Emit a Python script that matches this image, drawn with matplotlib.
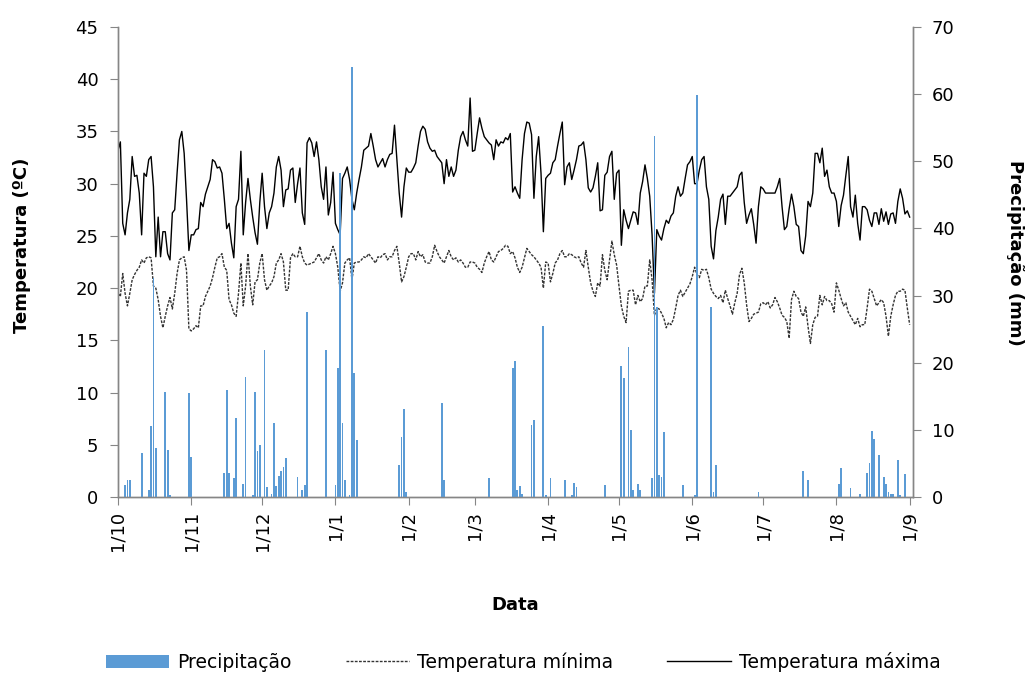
import numpy as np
import pandas as pd
import matplotlib
matplotlib.use("Agg")
import matplotlib.pyplot as plt
from matplotlib.patches import Patch
from matplotlib.lines import Line2D

# ---------------- data ----------------
start_date = "2010-10-01"
end_date = "2011-09-01"

tick_labels = ["1/10", "1/11", "1/12", "1/1", "1/2", "1/3", "1/4", "1/5", "1/6", "1/7", "1/8", "1/9"]

tmax = [
    33.2, 34.0, 26.2, 25.1, 27.2, 28.5, 32.6, 30.7, 30.8, 29.1,
    25.1, 31.0, 30.7, 32.3, 32.6, 29.7, 23.0, 26.8, 23.0, 25.4,
    25.4, 23.3, 22.7, 27.2, 27.5, 31.0, 34.2, 35.0, 32.9, 28.5,
    23.6, 25.1, 25.1, 25.6, 25.7, 28.2, 27.8, 29.0, 29.7, 30.4,
    32.3, 32.1, 31.5, 31.6, 31.0, 28.5, 25.7, 26.2, 24.3, 22.9,
    27.8, 28.5, 33.1, 25.1, 28.2, 30.5, 28.5, 26.8, 25.3, 24.2,
    28.2, 31.0, 27.8, 25.7, 27.2, 27.8, 29.1, 31.6, 32.6, 31.3,
    27.8, 29.4, 29.5, 31.3, 31.5, 28.2, 30.0, 31.5, 27.2, 26.1,
    33.9, 34.4, 33.9, 32.6, 34.0, 32.3, 29.7, 28.5, 31.6, 27.0,
    28.2, 31.1, 26.2, 25.6, 25.1, 30.5, 31.0, 31.6, 30.4, 28.5,
    27.5, 29.1, 30.4, 31.6, 33.2, 33.4, 33.6, 34.8, 33.6, 32.3,
    31.6, 32.0, 32.4, 31.6, 32.3, 32.8, 32.9, 35.6, 32.3, 29.1,
    26.8, 29.7, 31.5, 31.1, 31.1, 31.5, 32.0, 33.6, 35.0, 35.5,
    35.2, 34.0, 33.4, 33.1, 33.2, 32.6, 32.3, 32.0, 30.0, 32.3,
    30.7, 31.6, 30.7, 31.3, 33.2, 34.5, 35.0, 34.2, 33.6, 38.2,
    33.1, 33.2, 34.8, 36.3, 35.3, 34.5, 34.2, 33.9, 33.7, 32.3,
    34.2, 33.6, 34.0, 33.9, 34.4, 34.2, 34.8, 29.2, 29.7, 29.1,
    28.6, 32.3, 34.8, 35.9, 35.8, 34.7, 28.6, 32.6, 34.5, 31.0,
    25.4, 30.5, 30.8, 31.0, 32.0, 32.3, 33.6, 34.8, 35.9, 29.9,
    31.6, 32.0, 30.4, 31.3, 32.3, 33.6, 33.7, 34.0, 32.3, 29.6,
    29.2, 29.6, 30.7, 32.0, 27.4, 27.5, 30.8, 31.1, 32.6, 33.1,
    28.5, 31.0, 31.3, 24.1, 27.5, 26.5, 25.7, 26.5, 27.3, 27.2,
    26.1, 29.1, 30.2, 31.8, 30.5, 28.8, 25.1, 19.5, 25.6, 25.0,
    24.6, 25.7, 26.5, 26.2, 26.9, 27.2, 28.8, 29.7, 28.8, 29.1,
    30.5, 31.8, 32.1, 32.6, 30.0, 30.0, 31.3, 32.3, 32.6, 29.7,
    28.5, 24.0, 22.8, 25.5, 26.8, 28.5, 29.0, 26.1, 28.8, 28.8,
    29.1, 29.4, 29.7, 30.8, 31.1, 28.2, 26.2, 27.0, 27.6, 26.1,
    24.3, 27.8, 29.7, 29.5, 29.1, 29.1, 29.1, 29.1, 29.1, 29.7,
    30.5, 27.8, 25.6, 25.9, 27.6, 29.0, 27.8, 26.1, 25.9, 23.6,
    23.3, 25.0, 28.3, 27.8, 29.1, 32.9, 32.9, 32.0, 33.4, 30.7,
    31.3, 29.7, 29.1, 29.1, 28.3, 25.9, 27.9, 28.9, 30.8, 32.6,
    27.8, 26.8, 28.9, 26.2, 24.6, 27.8, 27.8, 27.5, 26.5, 25.9,
    27.2, 27.2, 26.1, 27.6, 26.4, 27.3, 26.1, 27.1, 27.2, 26.2,
    28.3, 29.5, 28.6, 27.1, 27.4, 26.8,
]

tmin = [
    19.5, 19.2, 21.4, 19.5, 18.3, 19.5, 20.8, 21.3, 21.7, 22.0,
    22.7, 22.4, 22.9, 23.0, 22.9, 20.2, 20.0, 18.9, 17.3, 16.2,
    17.3, 18.3, 19.1, 18.0, 19.5, 21.4, 22.7, 22.9, 23.0, 21.7,
    16.1, 15.9, 16.1, 16.4, 16.2, 18.3, 18.3, 19.2, 19.7, 20.2,
    21.0, 22.0, 22.9, 23.0, 23.3, 22.0, 21.7, 18.9, 18.4, 17.6,
    17.3, 19.5, 22.4, 18.3, 20.2, 23.3, 20.2, 18.4, 20.6, 20.8,
    22.4, 23.3, 20.8, 19.8, 20.2, 20.5, 21.1, 22.4, 22.7, 23.3,
    22.5, 19.8, 19.8, 22.9, 23.3, 23.0, 23.0, 24.0, 23.0, 22.4,
    22.2, 22.3, 22.4, 22.5, 22.9, 23.3, 22.7, 22.4, 23.0, 22.7,
    23.3, 24.0, 23.3, 22.0, 19.7, 20.5, 22.4, 22.7, 22.9, 20.8,
    22.4, 22.5, 22.5, 22.7, 23.0, 22.9, 23.3, 23.0, 22.7, 22.4,
    23.0, 22.9, 23.2, 23.3, 22.7, 23.0, 23.0, 23.6, 24.0, 22.4,
    20.6, 21.1, 22.0, 23.0, 23.3, 23.3, 22.7, 23.5, 23.0, 23.2,
    22.5, 22.4, 22.4, 23.0, 24.1, 23.5, 23.0, 22.7, 22.4, 23.0,
    23.6, 23.0, 22.7, 22.9, 22.5, 22.7, 22.4, 22.0, 22.0, 22.5,
    22.5, 22.4, 22.0, 21.8, 21.5, 22.4, 23.0, 23.5, 22.7, 22.5,
    23.0, 23.5, 23.6, 23.8, 24.1, 24.0, 23.3, 23.5, 22.9, 22.0,
    21.5, 22.0, 22.9, 23.8, 23.5, 23.2, 23.0, 22.7, 22.4, 22.0,
    20.0, 22.5, 22.4, 20.6, 21.4, 22.4, 22.7, 23.3, 23.6, 23.0,
    23.0, 23.3, 23.2, 23.0, 22.9, 23.0, 22.4, 22.0, 23.6, 22.0,
    20.5, 19.7, 19.2, 20.5, 20.2, 23.2, 21.7, 20.8, 22.7, 24.5,
    23.2, 22.2, 20.2, 18.3, 17.3, 16.7, 19.7, 19.8, 19.8, 18.4,
    19.3, 18.7, 19.0, 20.2, 20.2, 22.7, 20.8, 17.4, 18.1, 18.0,
    17.6, 17.1, 16.2, 16.7, 16.5, 17.0, 18.1, 19.3, 19.8, 19.2,
    19.6, 20.0, 20.4, 21.1, 22.0, 21.3, 21.0, 21.8, 21.7, 21.8,
    21.0, 19.9, 19.5, 19.2, 19.0, 19.3, 18.6, 19.8, 19.0, 18.3,
    17.5, 18.6, 19.5, 21.3, 21.9, 20.5, 18.4, 16.8, 17.1, 17.5,
    17.6, 17.7, 18.5, 18.6, 18.4, 18.7, 18.1, 18.4, 19.1, 18.7,
    18.1, 17.4, 17.2, 16.8, 15.2, 18.9, 19.7, 19.2, 19.0, 17.7,
    17.3, 18.2, 16.3, 14.7, 16.5, 17.2, 17.3, 19.3, 18.4, 19.2,
    18.8, 18.8, 18.5, 17.7, 20.5, 19.8, 19.0, 18.3, 18.6, 17.7,
    17.3, 16.9, 16.5, 17.1, 16.3, 16.5, 16.5, 18.1, 19.9, 19.7,
    19.0, 18.3, 18.6, 18.9, 18.6, 17.3, 15.4, 17.3, 18.4, 19.3,
    19.7, 19.7, 19.9, 19.8, 18.1, 16.5,
]

# rainy days (day index from 1/10) and amounts (mm)
rain_day = [3, 4, 5, 10, 13, 14, 15, 16, 20, 21, 22, 30, 31,
            45, 46, 47, 49, 50, 53, 54, 57, 58, 59, 60, 62, 63, 65, 66, 67, 68, 69, 70, 71, 76, 78, 79, 80,
            88, 92, 93, 94, 95, 96, 98, 99, 100, 101, 119, 120, 121, 122,
            137, 138, 157, 167, 168, 169, 170, 171, 175, 176, 180, 181, 183, 189, 192, 193, 194, 206,
            213, 214, 216, 217, 218, 220, 221, 226, 227, 228, 229, 230, 231, 239, 244, 245, 251, 252, 253,
            271, 290, 292,
            305, 306, 310, 314, 317, 318, 319, 320, 322, 324, 325, 326, 327, 328, 330, 331, 333]
rain_mm = [1.8, 2.6, 2.6, 6.6, 1.1, 10.6, 32.6, 7.3, 15.7, 7.0, 0.3, 15.5, 5.9,
           3.6, 16.0, 3.6, 2.8, 11.7, 2.0, 17.9, 0.3, 15.7, 6.8, 7.7, 21.9, 1.5, 0.5, 11.0, 1.7, 3.2, 3.9, 4.5, 5.8, 3.0, 1.0, 1.8, 27.6,
           21.9, 1.8, 19.2, 48.3, 11.0, 2.5, 0.3, 64.0, 18.4, 8.5, 4.8, 9.0, 13.1, 0.7,
           14.0, 2.6, 2.8, 19.2, 20.2, 1.0, 1.7, 0.4, 10.7, 11.5, 25.4, 0.3, 2.9, 2.5, 0.3, 2.1, 1.5, 1.8,
           19.5, 17.7, 22.3, 10.0, 1.0, 1.9, 1.0, 2.8, 53.8, 28.3, 3.3, 3.0, 9.7, 1.8, 0.3, 59.9, 28.3, 0.7, 4.8,
           0.8, 3.8, 2.6,
           1.9, 4.3, 1.3, 0.5, 3.6, 5.1, 9.9, 8.7, 6.3, 3.0, 2.0, 0.7, 0.5, 0.5, 5.5, 0.3, 3.5]

# ---------------- build ----------------
dates = pd.date_range(start_date, end_date, freq="D")
x = np.arange(len(dates))
precip = np.zeros(len(dates))
precip[np.array(rain_day)] = rain_mm
month_starts = np.where(dates.day == 1)[0]

W, H = 1029, 673
fig = plt.figure(figsize=(W / 100, H / 100), dpi=100)
ax = fig.add_axes([118 / W, 1 - 497 / H, (912.5 - 118) / W, (497 - 27) / H])
ax2 = ax.twinx()

bar_color = "#5B9BD5"
ax2.bar(x, precip, width=0.75, color=bar_color, align="center", zorder=2)
ax.plot(x, tmin, color="#333333", lw=1.0, ls=(0, (2.0, 1.0)), zorder=3)
ax.plot(x, tmax, color="black", lw=1.0, zorder=3)

ax.set_xlim(0, 336.2)
ax.set_ylim(0, 45)
ax2.set_ylim(0, 70)
ax.set_yticks(np.arange(0, 46, 5))
ax2.set_yticks(np.arange(0, 71, 10))
ax.set_xticks(month_starts)
ax.set_xticklabels(tick_labels, rotation=90)

spine_c = "#868686"
for a in (ax, ax2):
    a.spines["top"].set_visible(False)
    for s in ("left", "right", "bottom"):
        a.spines[s].set_color(spine_c)
        a.spines[s].set_linewidth(1.0)
ax.tick_params(axis="y", direction="out", length=6, color=spine_c, labelsize=13, pad=8)
ax2.tick_params(axis="y", direction="out", length=6, color=spine_c, labelsize=13, pad=8)
ax.tick_params(axis="x", direction="out", length=6, color=spine_c, labelsize=13, pad=4)

fig.text(22 / W, 1 - 245 / H, "Temperatura (ºC)", rotation=90, ha="center", va="center",
         fontsize=13, fontweight="bold")
fig.text(1015 / W, 1 - 253 / H, "Precipitação (mm)", rotation=270, ha="center", va="center",
         fontsize=13, fontweight="bold")
fig.text(515 / W, 1 - 605 / H, "Data", ha="center", va="center", fontsize=13, fontweight="bold")

handles = [Patch(facecolor=bar_color, edgecolor="none"),
           Line2D([], [], color="#333333", lw=1.0, ls=(0, (2.0, 1.0))),
           Line2D([], [], color="black", lw=1.0)]
labels = ["Precipitação", "Temperatura mínima", "Temperatura máxima"]
fig.legend(handles, labels, loc="center", bbox_to_anchor=(523 / W, 1 - 662 / H), ncol=3,
           frameon=False, handlelength=3.4, handletextpad=0.4, columnspacing=2.9,
           prop={"family": "DejaVu Sans", "size": 13.5})

fig.savefig("out.png", dpi=100)
